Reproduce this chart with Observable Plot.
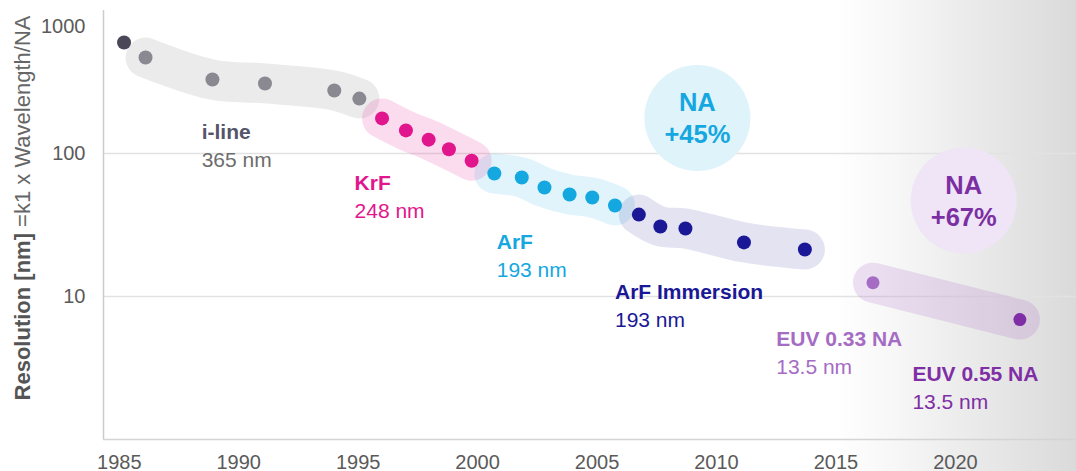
<!DOCTYPE html>
<html>
<head>
<meta charset="utf-8">
<script src="https://cdn.jsdelivr.net/npm/d3@7"></script>
<script src="https://cdn.jsdelivr.net/npm/@observablehq/plot@0.6"></script>
<style>
  html, body { margin: 0; padding: 0; background: #fff; }
  #chart { width: 1076px; height: 471px; background: linear-gradient(to right, #ffffff 0px, #ffffff 835px, #f7f7f7 895px, #eaeaea 975px, #dadada 1076px); }
</style>
</head>
<body>
<div id="chart"></div>
<script>
// ---- Data ----
const earlyYears   = [1985.2];
const earlyValues  = [598];
const ilineYears   = [1986.1, 1988.9, 1991.1, 1994.0, 1995.05];
const ilineValues  = [469, 329, 309, 276, 242];
const krfYears     = [1996.0, 1997.0, 1997.95, 1998.8, 1999.75];
const krfValues    = [176, 145, 125, 107, 89];
const arfYears     = [2000.7, 2001.85, 2002.8, 2003.85, 2004.8, 2005.75];
const arfValues    = [72.5, 68, 57.8, 51.7, 49.2, 43.3];
const arfiYears    = [2006.75, 2007.65, 2008.7, 2011.15, 2013.7];
const arfiValues   = [37.4, 30.9, 29.9, 23.9, 21.3];
const euv033Years  = [2016.55];
const euv033Values = [12.5];
const euv055Years  = [2022.7];
const euv055Values = [6.9];

const xTicks = [1985, 1990, 1995, 2000, 2005, 2010, 2015, 2020];
const yTicks = [10, 100, 1000];

// annotation texts and anchors (data space)
const labelNames  = ["i-line", "KrF", "ArF", "ArF Immersion", "EUV 0.33 NA", "EUV 0.55 NA"];
const labelWaves  = ["365 nm", "248 nm", "193 nm", "193 nm", "13.5 nm", "13.5 nm"];
const labelYears  = [1988.45, 1994.85, 2000.8, 2005.75, 2012.5, 2018.2];
const labelValues = [140, 61.7, 23.9, 10.7, 5.0, 2.85];
const bubbleTop    = ["NA", "NA"];
const bubbleBottom = ["+45%", "+67%"];
const bubbleYears  = [2009.2, 2020.35];
const bubbleValues = [177, 46.9];

// ---- Styles ----
const C = {
  early: "#4a4858", iline: "#8a8992", ilineLabel: "#55546a", ilineWave: "#6d6d6d",
  krf: "#e2168c", arf: "#15a7df", arfi: "#1a1896", euv033: "#a56cc4", euv055: "#7f2ea5"
};
const rows = (ys, vs) => ys.map((y, i) => ({year: y, value: vs[i]}));
const early = rows(earlyYears, earlyValues);
const iline = rows(ilineYears, ilineValues);
const krf = rows(krfYears, krfValues);
const arf = rows(arfYears, arfValues);
const arfi = rows(arfiYears, arfiValues);
const euv033 = rows(euv033Years, euv033Values);
const euv055 = rows(euv055Years, euv055Values);
const euvAll = euv033.concat(euv055);

const labels = labelNames.map((n, i) => ({name: n, wave: labelWaves[i], year: labelYears[i], value: labelValues[i]}));
const labelColors = [C.ilineLabel, C.krf, C.arf, C.arfi, C.euv033, C.euv055];
const waveColors  = [C.ilineWave, C.krf, C.arf, C.arfi, C.euv033, C.euv055];
const bubbles = bubbleTop.map((t, i) => ({top: t, bottom: bubbleBottom[i], year: bubbleYears[i], value: bubbleValues[i]}));
const bubbleFill = ["#dff3fb", "#efe5f6"];
const bubbleText = [C.arf, "#7b2fa3"];

const band = (data, color, opacity) => Plot.line(data, {
  x: "year", y: "value", stroke: color, strokeOpacity: opacity, strokeWidth: 40,
  strokeLinecap: "round", strokeLinejoin: "round", curve: "catmull-rom"
});
const dots = (data, color, r = 7) => Plot.dot(data, {x: "year", y: "value", r, fill: color, stroke: null});

const xDomain = [1984.34, 2025.07];
const font = "'Liberation Sans', Arial, sans-serif";

const chart = Plot.plot({
  width: 1076, height: 471,
  marginLeft: 103, marginRight: 0, marginTop: 10, marginBottom: 32,
  style: {background: "transparent", fontFamily: font, fontSize: "19px", color: "#666", overflow: "visible"},
  x: {domain: xDomain, label: null},
  y: {type: "log", domain: [1, 1000], label: null},
  marks: [
    Plot.ruleY([10, 100], {stroke: "#e2e2e2", strokeWidth: 1.5}),
    Plot.ruleX([xDomain[0]], {stroke: "#cccccc", strokeWidth: 1.5}),
    Plot.ruleY([1], {stroke: "#d4d4d4", strokeWidth: 1.5}),
    Plot.axisX({ticks: xTicks, tickFormat: d => String(d), tickSize: 0, tickPadding: 15, fontSize: 20, fill: "#5a5a5a"}),
    Plot.axisY({ticks: yTicks.filter(d => d < 1000), tickFormat: d => String(d), tickSize: 0, tickPadding: 18, fontSize: 20, fill: "#5a5a5a"}),
    Plot.axisY({ticks: yTicks.filter(d => d >= 1000), tickFormat: d => String(d), tickSize: 0, tickPadding: 18, fontSize: 20, fill: "#5a5a5a", dy: 16}),
    // bubbles
    Plot.dot(bubbles, {x: "year", y: "value", r: 53, fill: (d, i) => bubbleFill[i], stroke: null}),
    // bands
    band(iline, "#888888", 0.17),
    band(krf, C.krf, 0.15),
    band(arf, C.arf, 0.13),
    band(arfi, C.arfi, 0.12),
    band(euvAll, "#9a55c0", 0.17),
    // points
    dots(early, C.early),
    dots(iline, C.iline),
    dots(krf, C.krf),
    dots(arf, C.arf),
    dots(arfi, C.arfi),
    dots(euv033, C.euv033, 6.5),
    dots(euv055, C.euv055, 6.5),
    // labels
    Plot.text(labels, {x: "year", y: "value", text: "name", textAnchor: "start", fontWeight: "bold", fontSize: 21, fill: (d, i) => labelColors[i]}),
    Plot.text(labels, {x: "year", y: "value", text: "wave", textAnchor: "start", fontSize: 21, dy: 28, fill: (d, i) => waveColors[i]}),
    Plot.text(bubbles, {x: "year", y: "value", text: "top", fontWeight: "bold", fontSize: 25.5, dy: -15, fill: (d, i) => bubbleText[i]}),
    Plot.text(bubbles, {x: "year", y: "value", text: "bottom", fontWeight: "bold", fontSize: 25.5, dy: 17, fill: (d, i) => bubbleText[i]})
  ]
});

const svg = d3.select(chart);
const t = svg.append("text")
  .attr("transform", "translate(22,208) rotate(-90)")
  .attr("text-anchor", "middle")
  .attr("dominant-baseline", "central")
  .attr("font-family", font)
  .attr("font-size", 22)
  .attr("fill", "#555");
t.append("tspan").attr("font-weight", "bold").text("Resolution [nm]");
t.append("tspan").attr("fill", "#666").text(" =k1 x Wavelength/NA");

document.getElementById("chart").appendChild(chart);
</script>
</body>
</html>
